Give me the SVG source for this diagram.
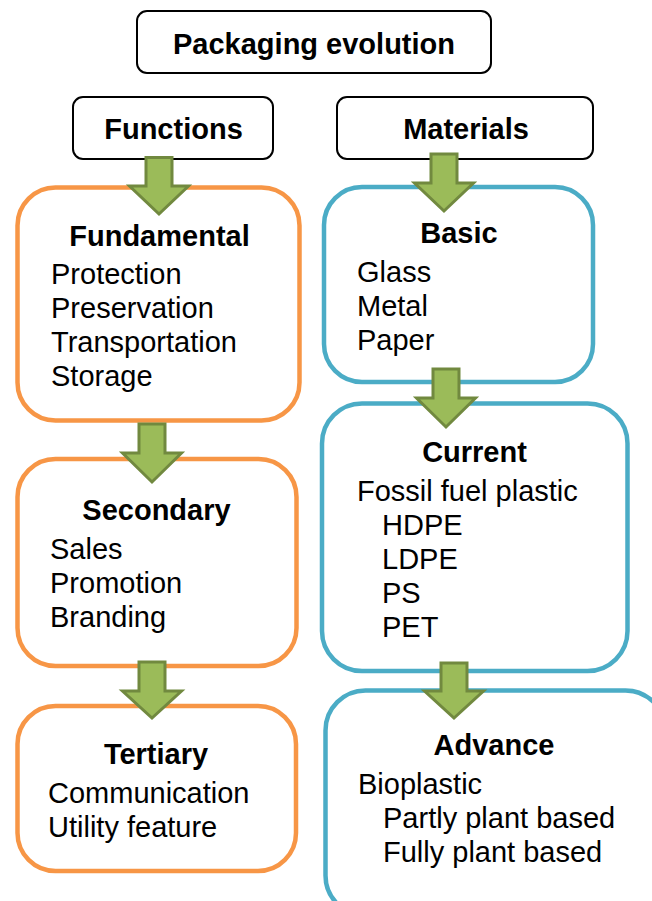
<svg xmlns="http://www.w3.org/2000/svg" width="652" height="901" viewBox="0 0 652 901">
<style>
.hdr{fill:#fff;stroke:#000;stroke-width:2}
.fn{fill:#fff;stroke:#F79646;stroke-width:4.5}
.mt{fill:#fff;stroke:#4BACC6;stroke-width:4.5}
.arr{fill:#9BBB59;stroke:#71893F;stroke-width:3;stroke-linejoin:miter}
text{font-family:"Liberation Sans",Arial,sans-serif;font-size:29px;fill:#000}
.b{font-weight:bold;text-anchor:middle}
</style>
<rect width="652" height="901" fill="#fff"/>
<g id="title"><rect class="hdr" x="137" y="11" width="354" height="62" rx="10"/><text class="b" x="314" y="54">Packaging evolution</text></g>
<g id="functions"><rect class="hdr" x="73" y="97" width="200" height="62" rx="10"/><text class="b" x="173.5" y="139">Functions</text></g>
<g id="materials"><rect class="hdr" x="337" y="97" width="256" height="62" rx="10"/><text class="b" x="466" y="139">Materials</text></g>
<g id="fundamental"><rect class="fn" x="17.5" y="187.5" width="282" height="233" rx="38"/>
<text class="b" x="159.5" y="246">Fundamental</text>
<text x="51" y="284">Protection</text><text x="51" y="318">Preservation</text><text x="51" y="352">Transportation</text><text x="51" y="386">Storage</text></g>
<g id="secondary"><rect class="fn" x="17.5" y="459" width="279" height="207" rx="38"/>
<text class="b" x="156.5" y="520">Secondary</text>
<text x="50" y="559">Sales</text><text x="50" y="593">Promotion</text><text x="50" y="627">Branding</text></g>
<g id="tertiary"><rect class="fn" x="17.5" y="706" width="278.5" height="165" rx="38"/>
<text class="b" x="156" y="764">Tertiary</text>
<text x="48" y="803">Communication</text><text x="48" y="837">Utility feature</text></g>
<g id="basic"><rect class="mt" x="324" y="187" width="269" height="195" rx="38"/>
<text class="b" x="459" y="243">Basic</text>
<text x="357" y="282">Glass</text><text x="357" y="316">Metal</text><text x="357" y="350">Paper</text></g>
<g id="current"><rect class="mt" x="322" y="403.5" width="305.5" height="267.5" rx="40"/>
<text class="b" x="474.5" y="462">Current</text>
<text x="357" y="501">Fossil fuel plastic</text><text x="382" y="535">HDPE</text><text x="382" y="569">LDPE</text><text x="382" y="603">PS</text><text x="382" y="637">PET</text></g>
<g id="advance"><rect class="mt" x="325.5" y="690.5" width="340" height="225" rx="40"/>
<text class="b" x="494" y="755">Advance</text>
<text x="358" y="794">Bioplastic</text><text x="383" y="828">Partly plant based</text><text x="383" y="862">Fully plant based</text></g>
<g id="connectors">
<path class="arr" d="M146,157.5H172V186H188.5L159,214L129.5,186H146Z"/>
<path class="arr" d="M431,154H457V183H473.5L444,211L414.5,183H431Z"/>
<path class="arr" d="M433,369H459V398H475.5L446,427L416.5,398H433Z"/>
<path class="arr" d="M139,424H165V453H181.5L152,482L122.5,453H139Z"/>
<path class="arr" d="M139,662H165V691H181.5L152,718L122.5,691H139Z"/>
<path class="arr" d="M441,663H467V691H483.5L454,718L424.5,691H441Z"/>
</g>
</svg>
